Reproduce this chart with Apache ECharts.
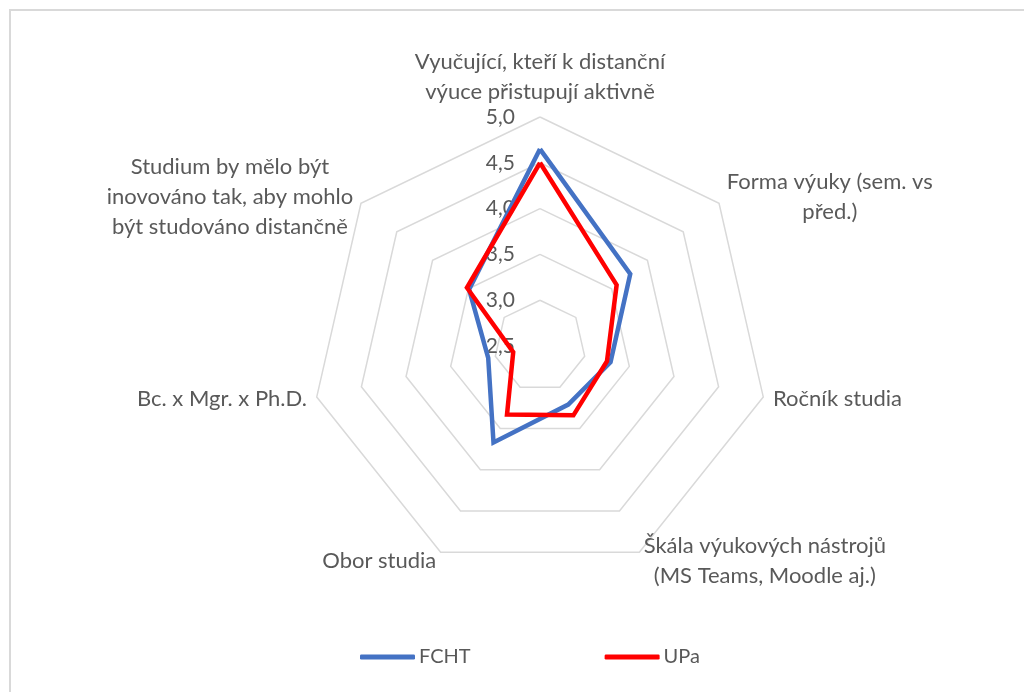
<!DOCTYPE html>
<html>
<head>
<meta charset="utf-8">
<script src="https://cdn.jsdelivr.net/npm/echarts@6/dist/echarts.min.js"></script>
<style>
  html, body { margin: 0; padding: 0; background: #fff; width: 1024px; height: 692px; overflow: hidden; }
  #frame { position: absolute; left: 9px; top: 9px; width: 1100px; height: 800px;
           border-left: 2px solid #d9d9d9; border-top: 2px solid #d9d9d9; }
  #chart { position: absolute; left: 0; top: 0; width: 1024px; height: 692px; }
</style>
</head>
<body>
<div id="frame"></div>
<div id="chart"></div>
<script>
// Survey dimensions, listed clockwise starting from the top
const categories = [
  'Vyučující, kteří k distanční\nvýuce přistupují aktivně',
  'Forma výuky (sem. vs\npřed.)',
  'Ročník studia',
  'Škála výukových nástrojů\n(MS Teams, Moodle aj.)',
  'Obor studia',
  'Bc. x Mgr. x Ph.D.',
  'Studium by mělo být\ninovováno tak, aby mohlo\nbýt studováno distančně'
];
const seriesNames = ['FCHT', 'UPa'];
const fchtValues = [4.65, 3.76, 3.29, 3.21, 3.67, 3.08, 3.49];
const upaValues  = [4.50, 3.57, 3.25, 3.34, 3.33, 2.80, 3.52];
const scaleMin = 2.5;
const scaleMax = 5.0;
const scaleSplits = 5;

const FONT = 'Lato';
const TEXT = '#595959';

// ECharts lays radar indicators out counter-clockwise; reorder so they run clockwise.
const order = categories.map((_, i) => (i === 0 ? 0 : categories.length - i));
const pick = arr => order.map(i => arr[i]);

const indicator = pick(categories).map((name, k) => {
  const ind = { name: name, min: scaleMin, max: scaleMax };
  if (k === 0) {
    // value scale is printed along the top axis only
    ind.axisLabel = {
      show: true,
      margin: 25,
      color: TEXT,
      fontFamily: FONT,
      fontSize: 21,
      formatter: v => v.toFixed(1).replace('.', ',')
    };
  }
  return ind;
});

const chart = echarts.init(document.getElementById('chart'), null, { renderer: 'canvas' });
chart.setOption({
  animation: false,
  backgroundColor: 'transparent',
  legend: {
    left: 355,
    top: 642,
    itemWidth: 55,
    itemHeight: 5,
    itemGap: 134,
    icon: 'roundRect',
    data: seriesNames,
    textStyle: { color: TEXT, fontFamily: FONT, fontSize: 20, padding: [0, 0, 0, -1] }
  },
  radar: {
    center: [540, 346],
    radius: 229,
    startAngle: 90,
    splitNumber: scaleSplits,
    shape: 'polygon',
    nameGap: 10,
    indicator: indicator,
    axisName: {
      color: TEXT,
      fontFamily: FONT,
      fontSize: 22,
      lineHeight: 30,
      formatter: name => name.split('\n').map(l => '{c|' + l + '}').join('\n'),
      rich: {
        c: { align: 'center', color: TEXT, fontFamily: FONT, fontSize: 22, lineHeight: 30 }
      }
    },
    axisLine: { show: false },
    axisTick: { show: false },
    splitArea: { show: false },
    splitLine: { lineStyle: { color: '#d9d9d9', width: 1.5 } }
  },
  series: [{
    type: 'radar',
    symbol: 'none',
    data: [
      {
        name: seriesNames[0],
        value: pick(fchtValues),
        lineStyle: { color: '#4472C4', width: 4.5, join: 'miter' },
        itemStyle: { color: '#4472C4' }
      },
      {
        name: seriesNames[1],
        value: pick(upaValues),
        lineStyle: { color: '#FF0000', width: 4.5, join: 'miter' },
        itemStyle: { color: '#FF0000' }
      }
    ]
  }]
});
</script>
</body>
</html>
